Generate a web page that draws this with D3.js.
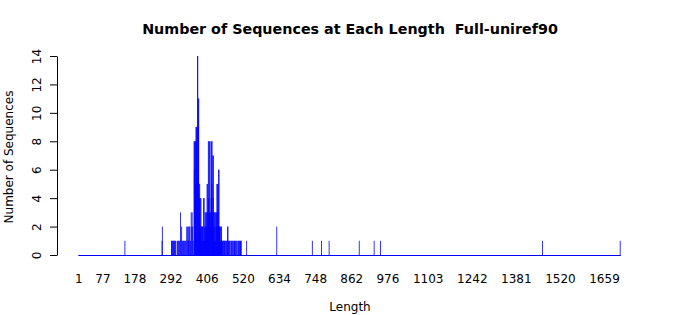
<!DOCTYPE html>
<html>
<head>
<meta charset="utf-8">
<script src="https://cdn.jsdelivr.net/npm/d3@7"></script>
<style>
  html, body { margin: 0; padding: 0; background: #fff; }
  svg { display: block; font-family: "DejaVu Sans", sans-serif; }
  .title { white-space: pre; }
</style>
</head>
<body>
<svg id="chart" width="700" height="315"></svg>
<script>
// ---- data ----
const titleText = "Number of Sequences at Each Length  Full-uniref90";
const xLabel = "Length";
const yLabel = "Number of Sequences";
const xTickLabels = [1, 77, 178, 292, 406, 520, 634, 748, 862, 976, 1103, 1242, 1381, 1520, 1659];
const yTickLabels = [0, 2, 4, 6, 8, 10, 12, 14];
const minLength = 1;
const maxLength = 1712;
const lengths = [
  148, 265, 266,
  295, 296, 298, 300, 302, 303, 305, 307, 309, 314, 316, 318, 320, 323, 325, 327, 329, 331, 333, 336, 338, 340,
  343, 344, 346, 348, 349, 351, 353, 355, 357, 359, 360, 362, 363,
  366, 367, 368, 369, 370, 371, 372, 373, 374, 375, 376, 377, 378, 379, 380, 381, 382, 383, 384, 385,
  386, 387, 388, 389, 390, 391, 392, 393, 394, 395, 396, 397, 398, 399, 400, 401, 402, 403, 404, 405,
  406, 407, 408, 409, 410, 411, 412, 413, 414, 415, 416, 417, 418, 419, 420, 421, 422, 423, 424, 425,
  426, 427, 428, 429, 430, 431, 432, 433, 434, 435, 436, 437, 438, 439, 440, 441, 442, 443, 444, 445,
  446, 447, 448, 449, 450, 451, 452, 453, 454, 456, 457, 459, 461, 462, 464, 466, 468, 470, 472, 473,
  474, 476, 477, 479, 482, 484, 486, 488, 491, 493, 494, 497, 499, 501, 504, 506, 508, 510, 512, 513, 515,
  532, 627, 739, 768, 792, 887, 934, 954, 1465, 1710
];
const counts = [
  1, 1, 2,
  1, 1, 1, 1, 1, 1, 1, 1, 1, 1, 1, 1, 1, 3, 1, 2, 1, 1, 1, 1, 1, 1,
  2, 1, 2, 2, 1, 2, 2, 1, 3, 2, 3, 2, 1,
  8, 6, 8, 8, 5, 8, 9, 8, 9, 9, 6, 14, 14, 9, 11, 11, 5, 4, 5, 2,
  4, 2, 4, 1, 2, 2, 1, 2, 2, 1, 4, 1, 4, 2, 1, 3, 2, 3, 1, 3,
  2, 5, 3, 5, 2, 8, 4, 8, 3, 8, 3, 2, 3, 8, 4, 8, 5, 8, 3, 7,
  4, 7, 2, 3, 1, 3, 2, 3, 1, 3, 2, 3, 5, 2, 5, 3, 5, 6, 2, 6,
  2, 2, 1, 2, 1, 2, 1, 2, 1, 1, 1, 1, 1, 1, 1, 1, 1, 1, 2, 2,
  1, 1, 1, 1, 1, 1, 1, 1, 1, 1, 1, 1, 1, 1, 1, 1, 1, 1, 1, 1, 1,
  1, 2, 1, 1, 1, 1, 1, 1, 1, 1
];

// ---- layout ----
const svg = d3.select("#chart");
const x = d3.scaleLinear().domain([1, 1659]).range([78.3, 604]);
const y = d3.scaleLinear().domain([0, 14]).range([255, 56]);
const barColor = "#0000ff";

// title
svg.append("text")
  .attr("class", "title")
  .attr("xml:space", "preserve")
  .attr("x", 350).attr("y", 34)
  .attr("text-anchor", "middle")
  .attr("font-size", 14.3).attr("font-weight", "bold")
  .attr("fill", "#000")
  .text(titleText);

// bars
const data = lengths.map((l, i) => ({ l, c: counts[i] }));
svg.append("g").selectAll("rect").data(data).enter().append("rect")
  .attr("x", d => x(d.l) - 0.4)
  .attr("width", 0.8)
  .attr("y", d => y(d.c))
  .attr("height", d => y(0) - y(d.c))
  .attr("fill", barColor);

// baseline (zero-height bars)
svg.append("line")
  .attr("x1", x(minLength)).attr("x2", x(maxLength))
  .attr("y1", y(0) + 0.5).attr("y2", y(0) + 0.5)
  .attr("stroke", barColor).attr("stroke-width", 1);

// y axis
const yAxis = d3.axisLeft(y).tickValues(yTickLabels).tickSize(7).tickSizeOuter(0);
const gy = svg.append("g").attr("transform", "translate(57,0)").call(yAxis);
gy.select(".domain").attr("stroke", "#000");
gy.selectAll(".tick line").attr("stroke", "#000");
gy.selectAll(".tick text")
  .attr("font-size", 12)
  .attr("font-family", "DejaVu Sans, sans-serif")
  .attr("fill", "#000")
  .attr("text-anchor", "middle")
  .attr("transform", "rotate(-90)")
  .attr("x", 0)
  .attr("y", -20)
  .attr("dy", "0.35em");

// x tick labels (no ticks, like R barplot names)
const xAxis = d3.axisBottom(x).tickValues(xTickLabels).tickSize(0).tickPadding(0).tickFormat(d3.format("d"));
const gx = svg.append("g").attr("transform", "translate(0,270)").call(xAxis);
gx.select(".domain").remove();
gx.selectAll(".tick text")
  .attr("font-size", 12)
  .attr("font-family", "DejaVu Sans, sans-serif")
  .attr("fill", "#000")
  .attr("dy", "0.71em")
  .attr("y", 4);

// axis labels
svg.append("text")
  .attr("x", 350).attr("y", 311)
  .attr("text-anchor", "middle")
  .attr("font-size", 12).attr("fill", "#000")
  .text(xLabel);

svg.append("text")
  .attr("transform", "translate(13,157) rotate(-90)")
  .attr("text-anchor", "middle")
  .attr("font-size", 12).attr("fill", "#000")
  .text(yLabel);
</script>
</body>
</html>
